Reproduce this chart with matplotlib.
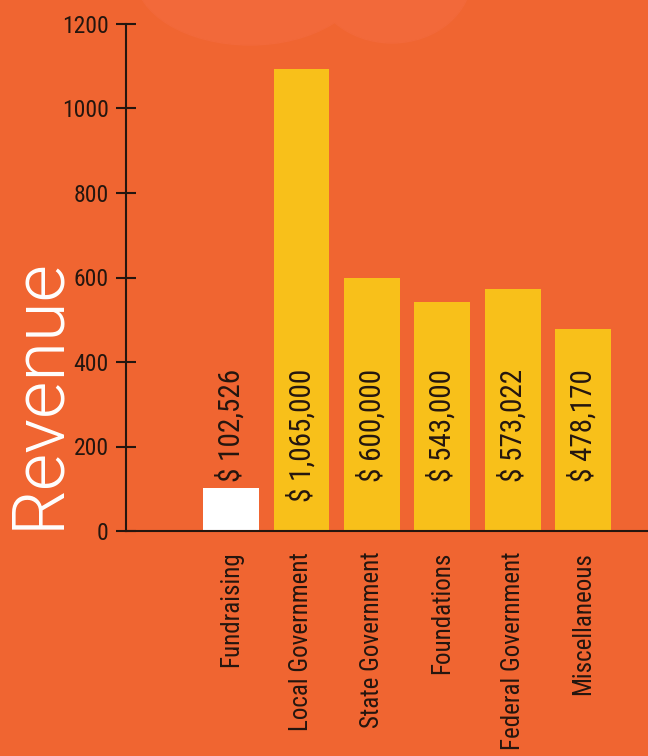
import matplotlib.pyplot as plt
from matplotlib.patches import Ellipse

categories = ["Fundraising", "Local Government", "State Government",
              "Foundations", "Federal Government", "Miscellaneous"]
# bar heights as drawn (thousands of dollars)
heights = [102, 1093, 600, 543, 573, 478]
value_labels = ["$ 102,526", "$ 1,065,000", "$ 600,000",
                "$ 543,000", "$ 573,022", "$ 478,170"]
bar_colors = ["#FFFFFF", "#F8C01A", "#F8C01A", "#F8C01A", "#F8C01A", "#F8C01A"]

bg = "#F06531"
ink = "#24160F"

plt.rcParams['font.family'] = ["Roboto Condensed", "DejaVu Sans"]

W, H = 648, 756
fig = plt.figure(figsize=(W / 100, H / 100), dpi=100, facecolor=bg)

# faint lighter blobs along the top edge of the background
for cx, cy, w, h in [(250, -25, 230, 140), (392, -25, 160, 136)]:
    fig.patches.append(Ellipse((cx / W, 1 - cy / H), w / W, h / H,
                               transform=fig.transFigure, color="#F2693A",
                               zorder=0))

ax = fig.add_axes([126 / W, 1 - 531 / H, 1 - 126 / W, (531 - 24) / H])
ax.set_facecolor("none")

x = list(range(len(categories)))
ax.bar(x, heights, width=0.79, color=bar_colors, zorder=2)

# value labels share a common top edge
for i, lab in enumerate(value_labels):
    ax.text(i, 383, lab, rotation=90, ha="center", va="top",
            fontsize=21, color=ink, zorder=3)

ax.set_xlim(-1.49, 5.92)
ax.set_ylim(0, 1200)
ax.set_yticks(range(0, 1201, 200))
ax.set_xticks(x)
ax.set_xticklabels(categories, rotation=90, va="top", ha="center")

for s in ["top", "right"]:
    ax.spines[s].set_visible(False)
for s in ["left", "bottom"]:
    ax.spines[s].set_color(ink)
    ax.spines[s].set_linewidth(1.5)

ax.tick_params(axis="y", direction="inout", length=15, width=1.5,
               colors=ink, labelsize=17, pad=5)
ax.tick_params(axis="x", length=0, pad=15, labelsize=18, colors=ink)

fig.text(0.059, 0.48, "Revenue", rotation=90, ha="center", va="center",
         fontsize=52, color="white", family=["Roboto", "DejaVu Sans"],
         fontweight=300)

fig.savefig("out.png", dpi=100, facecolor=bg)
